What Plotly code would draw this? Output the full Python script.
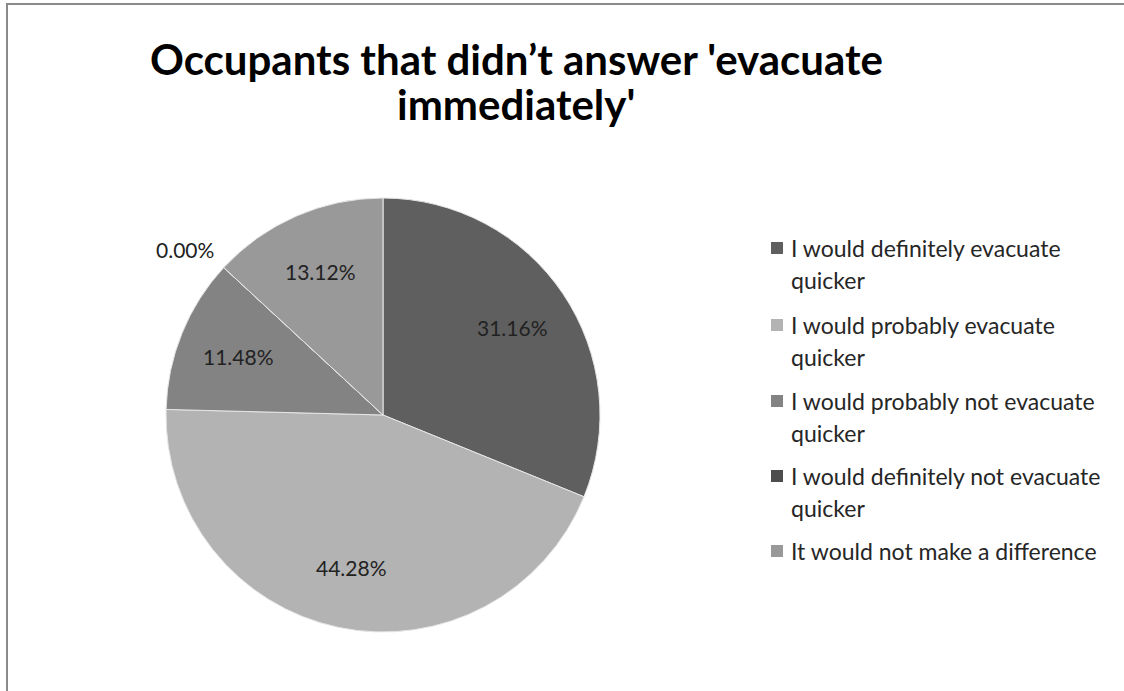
import math
import plotly.graph_objects as go

labels = [
    "I would definitely evacuate quicker",
    "I would probably evacuate quicker",
    "I would probably not evacuate quicker",
    "I would definitely not evacuate quicker",
    "It would not make a difference",
]
legend_lines = [
    ["I would definitely evacuate", "quicker"],
    ["I would probably evacuate", "quicker"],
    ["I would probably not evacuate", "quicker"],
    ["I would definitely not evacuate", "quicker"],
    ["It would not make a difference"],
]
values = [31.16, 44.28, 11.48, 0.00, 13.12]
colors = ["#5f5f5f", "#b3b3b3", "#838383", "#4d4d4d", "#999999"]
title_lines = ["Occupants that didn\u2019t answer 'evacuate", "immediately'"]

W, H = 1124, 691
cx, cy, r = 383, 415, 217

def px(x):
    return x / W

def py(y):
    return 1 - y / H

fig = go.Figure()
fig.add_trace(go.Pie(
    labels=labels,
    values=values,
    sort=False,
    direction="clockwise",
    rotation=0,
    marker=dict(colors=colors, line=dict(color="#e6e6e6", width=1)),
    textinfo="none",
    domain=dict(x=[px(cx - r), px(cx + r)], y=[py(cy + r), py(cy - r)]),
    showlegend=False,
    hoverinfo="label+percent",
))

annotations = []
# title
for i, line in enumerate(title_lines):
    annotations.append(dict(
        text=f"<b>{line}</b>", x=px(516), y=py(59 + i * 45), xref="paper", yref="paper",
        xanchor="center", yanchor="middle", showarrow=False,
        font=dict(family="Lato", size=42, color="#000000"),
    ))

# data labels, placed along each slice's bisector
total = sum(values)
cum = 0.0
for v in values:
    mid = (cum + v / 2) / total * 2 * math.pi
    cum += v
    rr = 0.72 * r if v > 0 else 1.12 * r
    x = cx + rr * math.sin(mid)
    y = cy - rr * math.cos(mid)
    if v == 0:
        x -= 20
    annotations.append(dict(
        text=f"{v:.2f}%", x=px(x), y=py(y), xref="paper", yref="paper",
        xanchor="center", yanchor="middle", showarrow=False,
        font=dict(family="Lato", size=21, color="#222222"),
    ))

shapes = []
item_y = [248, 325, 401, 476, 551]
for lines, col, y0 in zip(legend_lines, colors, item_y):
    shapes.append(dict(type="rect", xref="paper", yref="paper",
                       x0=px(771), x1=px(783), y0=py(y0 + 6), y1=py(y0 - 6),
                       fillcolor=col, line=dict(width=0)))
    for j, ln in enumerate(lines):
        annotations.append(dict(
            text=ln, x=px(789), y=py(y0 + j * 32), xref="paper", yref="paper",
            xanchor="left", yanchor="middle", showarrow=False,
            font=dict(family="Lato", size=23, color="#262626"),
        ))

# chart frame (left and top edges)
shapes.append(dict(type="line", xref="paper", yref="paper",
                   x0=px(7), x1=px(7), y0=0, y1=py(3),
                   line=dict(color="#8a8a8a", width=2)))
shapes.append(dict(type="line", xref="paper", yref="paper",
                   x0=px(6), x1=1, y0=py(4), y1=py(4),
                   line=dict(color="#8a8a8a", width=2)))

fig.update_layout(
    width=W, height=H,
    margin=dict(l=0, r=0, t=0, b=0),
    paper_bgcolor="white", plot_bgcolor="white",
    annotations=annotations,
    shapes=shapes,
)

fig.write_html("out.html", config={"displayModeBar": False},
               post_script="document.body.style.margin='0';document.body.style.overflow='hidden';")
